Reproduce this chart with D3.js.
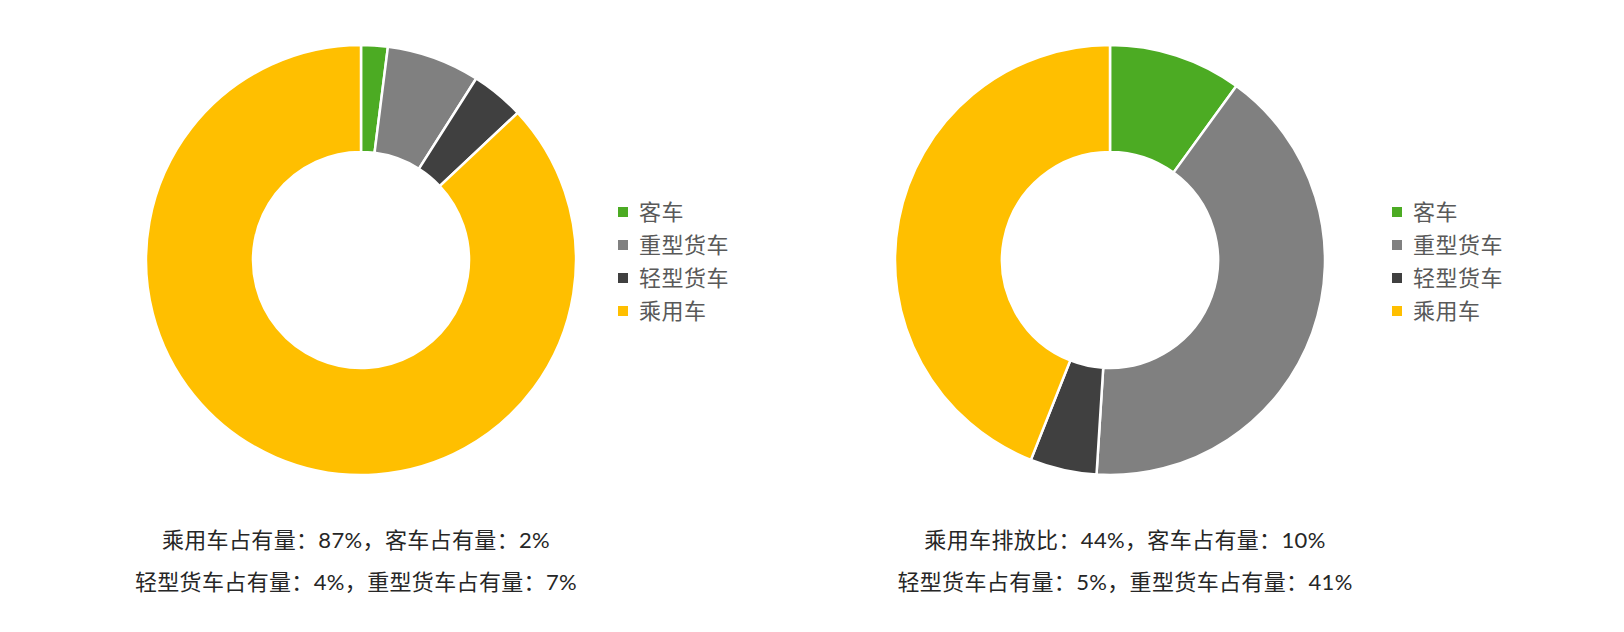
<!DOCTYPE html>
<html><head><meta charset="utf-8">
<script src="https://cdn.jsdelivr.net/npm/d3@7"></script>
<style>
html,body{margin:0;padding:0;background:#fff;}
text{font-family:"Lato","Noto Sans CJK SC",sans-serif;}
</style></head>
<body><svg id="c" width="1624" height="632"></svg>
<script>
const categories = ["客车","重型货车","轻型货车","乘用车"];
const colors = ["#4cab23","#808080","#404040","#ffbf00"];
const leftValues = [2,7,4,87];
const rightValues = [10,41,5,44];
const leftNotes = ["乘用车占有量：87%，客车占有量：2%","轻型货车占有量：4%，重型货车占有量：7%"];
const rightNotes = ["乘用车排放比：44%，客车占有量：10%","轻型货车占有量：5%，重型货车占有量：41%"];

const svg = d3.select("#c");
const color = d3.scaleOrdinal().domain(categories).range(colors);
const pie = d3.pie().sort(null).value(d=>d.v);
const arc = d3.arc().innerRadius(108).outerRadius(215);

function donut(cx, cy, values, legendX, notes, noteX){
  const g = svg.append("g").attr("transform",`translate(${cx},${cy})`);
  const data = categories.map((c,i)=>({c, v: values[i]}));
  g.selectAll("path").data(pie(data)).join("path")
    .attr("d",arc).attr("fill",d=>color(d.data.c))
    .attr("stroke","#fff").attr("stroke-width",2.5).attr("stroke-linejoin","miter");
  const ly = d3.scalePoint().domain(categories).range([212,311]);
  const lg = svg.append("g");
  categories.forEach(c=>{
    lg.append("rect").attr("x",legendX).attr("y",ly(c)-5).attr("width",10).attr("height",10).attr("fill",color(c));
    lg.append("text").attr("x",legendX+21).attr("y",ly(c)+8).attr("font-size",22)
      .attr("letter-spacing",0.5).attr("fill","#595959").text(c);
  });
  notes.forEach((t,i)=>{
    svg.append("text").attr("x",noteX).attr("y",548+i*42).attr("text-anchor","middle")
      .attr("font-size",22).attr("letter-spacing",0.35).attr("fill","#262626").text(t);
  });
}
donut(361,260,leftValues,618,leftNotes,356);
donut(1110,260,rightValues,1392,rightNotes,1125);
</script></body></html>
